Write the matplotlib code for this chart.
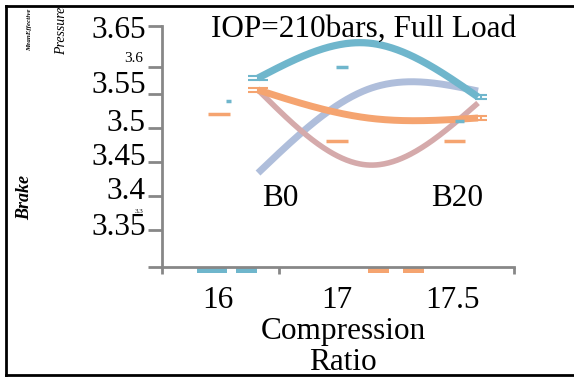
import numpy as np
import matplotlib
matplotlib.use("Agg")
import matplotlib.pyplot as plt
from matplotlib.lines import Line2D
from matplotlib.transforms import ScaledTranslation, blended_transform_factory

plt.rcParams['font.family'] = ['Liberation Serif', 'DejaVu Serif']

# ---------------- data ----------------
categories = ["16", "17", "17.5"]          # compression ratio
cat_pos = [0, 1, 2]                         # category index positions
blue_vals = [3.5735, 3.6250, 3.5456]
orange_vals = [3.5559, 3.5147, 3.5147]
pink_vals = [3.5560, 3.4456, 3.5368]
lavender_vals = [3.4338, 3.5570, 3.5544]

# stray short marks (value, centre position, half width)
blue_marks_y = [3.5397, 3.5897, 3.5103]
blue_marks_x = [-0.268, 0.764, 1.832]
blue_marks_hw = [0.023, 0.055, 0.041]
orange_marks_y = [3.5206, 3.4809, 3.4809]
orange_marks_x = [-0.355, 0.718, 1.786]
orange_marks_hw = [0.100, 0.100, 0.095]

# small bars hanging under the axis
blue_bar_x = [-0.418, -0.1045]
blue_bar_w = [0.273, 0.19]
orange_bar_x = [1.095, 1.414]
orange_bar_w = [0.19, 0.19]
bar_depth = -0.0088

xlim = (-0.873, 2.327)
ylim = (3.2956, 3.65)
x_tick_marks = [-0.873, 0.191, 2.327]
x_label_pos = [-0.364, 0.718, 1.764]
y_ticks = [3.2956, 3.35, 3.4, 3.45, 3.5, 3.55, 3.5897, 3.65]
y_label_vals = [3.35, 3.4, 3.45, 3.5, 3.55, 3.65]
y_label_text = ["3.35", "3.4", "3.45", "3.5", "3.55", "3.65"]
y_label_shift_px = [3, 5, 5, 5, 9, -4]

BLUE = "#6fb6cc"
ORANGE = "#f5a470"
PINK = "#d5aaab"
LAV = "#afbedb"
GREY = "#878787"


def natural_spline(x, y, n=200):
    x = np.asarray(x, float)
    y = np.asarray(y, float)
    k = len(x)
    h = np.diff(x)
    A = np.zeros((k, k))
    r = np.zeros(k)
    A[0, 0] = 1
    A[-1, -1] = 1
    for i in range(1, k - 1):
        A[i, i - 1] = h[i - 1]
        A[i, i] = 2 * (h[i - 1] + h[i])
        A[i, i + 1] = h[i]
        r[i] = 6 * ((y[i + 1] - y[i]) / h[i] - (y[i] - y[i - 1]) / h[i - 1])
    M = np.linalg.solve(A, r)
    xs = np.linspace(x[0], x[-1], n)
    ys = np.empty_like(xs)
    for j, xv in enumerate(xs):
        i = min(np.searchsorted(x, xv, side='right') - 1, k - 2)
        t1 = x[i + 1] - xv
        t0 = xv - x[i]
        hi = h[i]
        ys[j] = (M[i] * t1 ** 3 / (6 * hi) + M[i + 1] * t0 ** 3 / (6 * hi)
                 + (y[i] / hi - M[i] * hi / 6) * t1
                 + (y[i + 1] / hi - M[i + 1] * hi / 6) * t0)
    return xs, ys


fig = plt.figure(figsize=(5.74, 3.78), dpi=100)
ax = fig.add_axes([162 / 574, 1 - 267 / 378, 352 / 574, 241 / 378])
ax.set_xlim(*xlim)
ax.set_ylim(*ylim)

for vals, col, lw in [(lavender_vals, LAV, 5.0), (pink_vals, PINK, 4.0),
                      (orange_vals, ORANGE, 5.0), (blue_vals, BLUE, 5.2)]:
    xs, ys = natural_spline(cat_pos, vals)
    ax.plot(xs, ys, color=col, lw=lw, solid_capstyle='butt', zorder=3)

# end caps on blue / orange
for vals, col in [(blue_vals, BLUE), (orange_vals, ORANGE)]:
    ax.errorbar([cat_pos[0]], [vals[0]], yerr=0.0035, fmt='none', ecolor=col,
                elinewidth=1.5, capsize=7, capthick=1.5, zorder=4)
    ax.errorbar([cat_pos[-1] + 0.03], [vals[-1]], yerr=0.0035, fmt='none', ecolor=col,
                elinewidth=1.5, capsize=4, capthick=1.5, zorder=4)

ax.hlines(blue_marks_y, np.array(blue_marks_x) - blue_marks_hw,
          np.array(blue_marks_x) + blue_marks_hw, colors=BLUE, lw=2.5, zorder=4)
ax.hlines(orange_marks_y, np.array(orange_marks_x) - orange_marks_hw,
          np.array(orange_marks_x) + orange_marks_hw, colors=ORANGE, lw=2.5, zorder=4)

ax.bar(blue_bar_x, [bar_depth] * len(blue_bar_x), width=blue_bar_w, bottom=ylim[0],
       color=BLUE, clip_on=False, zorder=1)
ax.bar(orange_bar_x, [bar_depth] * len(orange_bar_x), width=orange_bar_w, bottom=ylim[0],
       color=ORANGE, clip_on=False, zorder=1)

# spines
for s in ['top', 'right']:
    ax.spines[s].set_visible(False)
for s in ['left', 'bottom']:
    ax.spines[s].set_color(GREY)
    ax.spines[s].set_linewidth(2.0)

ax.set_xticks(x_tick_marks)
ax.set_xticklabels([])
ax.set_xticks(x_label_pos, minor=True)
ax.set_xticklabels(categories, minor=True)
ax.tick_params(axis='x', which='major', length=5, width=2.0, color=GREY)
ax.tick_params(axis='x', which='minor', length=0, pad=14, labelsize=22.5)

ax.set_yticks(y_ticks)
ax.set_yticklabels([])
ax.tick_params(axis='y', which='major', length=10, width=2.0, color=GREY)

ytrans = blended_transform_factory(ax.transAxes, ax.transData)
for v, t, sh in zip(y_label_vals, y_label_text, y_label_shift_px):
    ax.text(-0.046, v, t, ha='right', va='center', fontsize=22.5, clip_on=False,
            transform=ytrans + ScaledTranslation(0, sh / 100, fig.dpi_scale_trans))

# small stray tick labels
fig.text(143 / 574, 1 - 58 / 378, "3.6", ha='right', va='center', fontsize=11)
fig.text(139 / 574, 1 - 211 / 378, "3.3", ha='center', va='center', fontsize=5,
         zorder=5)

# title and annotations
fig.text(364 / 574, 1 - 29 / 378, "IOP=210bars, Full Load", ha='center', va='center',
         fontsize=22.5)
ax.text((280 - 258) / 110, 3.35 + (230 - 198) / 680, "B0", ha='center', va='center',
        fontsize=22.5)
ax.text((457 - 258) / 110, 3.35 + (230 - 198) / 680, "B20", ha='center', va='center',
        fontsize=22.5)

fig.text(343 / 574, 1 - 347 / 378, "Compression\nRatio", ha='center', va='center',
         fontsize=22.5, linespacing=1.08)

# y-axis label pieces
fig.text(25 / 574, 1 - 197 / 378, "Brake", rotation=90, ha='center', va='center',
         fontsize=13, fontweight='bold', fontstyle='italic')
fig.text(62 / 574, 1 - 31 / 378, "Pressure", rotation=90, ha='center', va='center',
         fontsize=10, fontstyle='italic')
fig.text(30 / 574, 1 - 30 / 378, "MeanEffective", rotation=90, ha='center', va='center',
         fontsize=5, fontweight='bold', fontstyle='italic')

# outer frame (top, left, bottom)
fx0 = 6 / 574
fy_top = 1 - 6 / 378
fy_bot = 1 - 375 / 378
for xd, yd in [([fx0, 1.0], [fy_top, fy_top]), ([fx0, fx0], [fy_bot, fy_top]),
               ([fx0, 1.0], [fy_bot, fy_bot])]:
    fig.add_artist(Line2D(xd, yd, transform=fig.transFigure, color='black', lw=2.0))

fig.savefig("out.png", dpi=100)
